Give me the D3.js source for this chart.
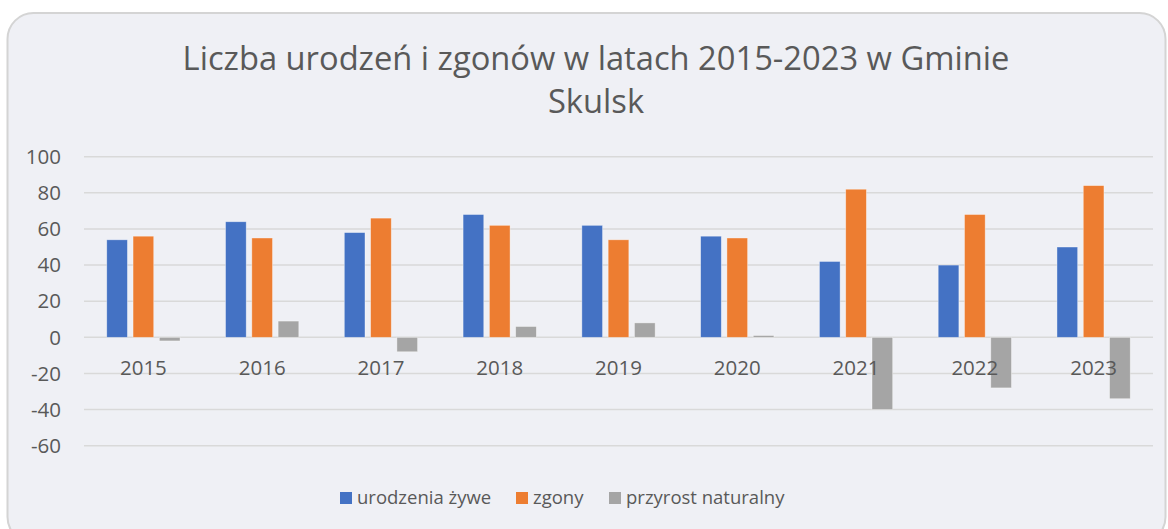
<!DOCTYPE html>
<html>
<head>
<meta charset="utf-8">
<script src="https://cdn.jsdelivr.net/npm/d3@7"></script>
<style>
  body { margin: 0; background: #ffffff; }
  svg text { font-family: "Open Sans", "Segoe UI", sans-serif; fill: #595959; }
</style>
</head>
<body>
<div id="chart"></div>
<script>
// data
var years = ["2015", "2016", "2017", "2018", "2019", "2020", "2021", "2022", "2023"];
var urodzenia = [54, 64, 58, 68, 62, 56, 42, 40, 50];
var zgony = [56, 55, 66, 62, 54, 55, 82, 68, 84];
var przyrost = [-2, 9, -8, 6, 8, 1, -40, -28, -34];
var seriesNames = ["urodzenia żywe", "zgony", "przyrost naturalny"];
var yTicks = [100, 80, 60, 40, 20, 0, -20, -40, -60];

var colors = ["#4472C4", "#ED7D31", "#A5A5A5"];
var width = 1168, height = 529;
var left = 84, right = 1153;

var svg = d3.select("#chart").append("svg")
  .attr("width", width)
  .attr("height", height);

// card background
svg.append("rect")
  .attr("x", 7.5).attr("y", 13)
  .attr("width", 1158).attr("height", 530)
  .attr("rx", 26).attr("ry", 26)
  .attr("fill", "#eff0f5")
  .attr("stroke", "#d4d4d4")
  .attr("stroke-width", 2);

// title
svg.append("text")
  .attr("x", 596).attr("y", 70)
  .attr("text-anchor", "middle")
  .style("font-size", "32.7px")
  .text("Liczba urodzeń i zgonów w latach 2015-2023 w Gminie");
svg.append("text")
  .attr("x", 596).attr("y", 113)
  .attr("text-anchor", "middle")
  .style("font-size", "32.7px")
  .text("Skulsk");

var y = d3.scaleLinear().domain([-60, 100]).range([445.7, 156.7]);
var x0 = d3.scaleBand().domain(years).range([left, right])
  .paddingInner(0.383).paddingOuter(0.1915);
var x1 = d3.scaleBand().domain([0, 1, 2]).range([0, x0.bandwidth()]).paddingInner(0.213);

// gridlines
svg.append("g")
  .selectAll("line")
  .data(yTicks)
  .enter()
  .append("line")
    .attr("x1", left).attr("x2", right)
    .attr("y1", function(d) { return y(d); })
    .attr("y2", function(d) { return y(d); })
    .attr("stroke", "#d9d9d9")
    .attr("stroke-width", 1.5);

// y labels
svg.append("g")
  .selectAll("text")
  .data(yTicks)
  .enter()
  .append("text")
    .attr("x", 61)
    .attr("y", function(d) { return y(d); })
    .attr("dy", "0.35em")
    .attr("text-anchor", "end")
    .style("font-size", "20.5px")
    .text(function(d) { return d; });

var allSeries = [urodzenia, zgony, przyrost];

var groups = svg.append("g")
  .selectAll("g")
  .data(years)
  .enter()
  .append("g")
    .attr("transform", function(d) { return "translate(" + x0(d) + ",0)"; });

// bars
groups.selectAll("rect")
  .data(function(d, i) {
    return allSeries.map(function(s, k) { return { k: k, v: s[i] }; });
  })
  .enter()
  .append("rect")
    .attr("x", function(d) { return x1(d.k); })
    .attr("y", function(d) { return d.v >= 0 ? y(d.v) : y(0); })
    .attr("width", x1.bandwidth())
    .attr("height", function(d) { return Math.abs(y(d.v) - y(0)); })
    .attr("fill", function(d) { return colors[d.k]; })
    .attr("stroke", "#ffffff")
    .attr("stroke-opacity", 0.5)
    .attr("stroke-width", 0.75);

// category labels, just under zero line
svg.append("g")
  .selectAll("text")
  .data(years)
  .enter()
  .append("text")
    .attr("x", function(d) { return x0(d) + x0.bandwidth() / 2; })
    .attr("y", y(0) + 38)
    .attr("text-anchor", "middle")
    .style("font-size", "20.5px")
    .text(function(d) { return d; });

// legend
var legendX = [340, 516, 609];
var legend = svg.append("g")
  .selectAll("g")
  .data(seriesNames)
  .enter()
  .append("g")
    .attr("transform", function(d, i) { return "translate(" + legendX[i] + ",492)"; });
legend.append("rect")
  .attr("width", 12).attr("height", 12)
  .attr("fill", function(d, i) { return colors[i]; });
legend.append("text")
  .attr("x", 17).attr("y", 6)
  .attr("dy", "0.35em")
  .style("font-size", "18.5px")
  .text(function(d) { return d; });
</script>
</body>
</html>
